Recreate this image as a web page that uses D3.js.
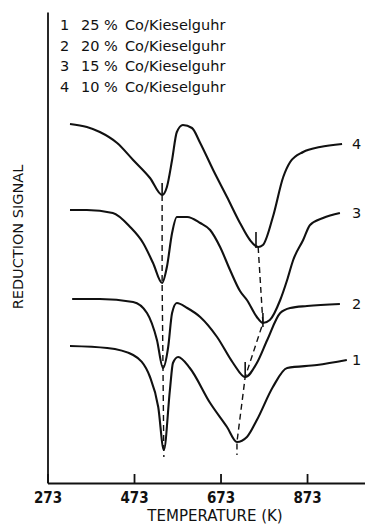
<!DOCTYPE html>
<html>
<head>
<meta charset="utf-8">
<script src="https://cdnjs.cloudflare.com/ajax/libs/d3/7.8.5/d3.min.js"></script>
<style>
    body { margin: 0; background: #fff; }
    text { font-family: "DejaVu Sans", sans-serif; fill: #111; }
    .axis path, .axis line { stroke: #111; stroke-width: 1.8px; }
    .axis text { font-family: "DejaVu Sans Condensed", "DejaVu Sans", sans-serif; font-size: 15px; font-weight: bold; }
</style>
</head>
<body>
<div id="chart"></div>
<script>

// temperature (K), reduction signal (arbitrary units)
var curve1 = [[325,137],[411,135],[471,128],[510,106],[529,76],[542,33],[556,93],[563,120],[575,126],
    [602,115],[649,80],[688,56],[711,41],[734,46],[757,63],[794,96],[827,115],[896,118],[965,123]];
var curve2 = [[330,184],[394,184],[471,181],[503,170],[526,143],[540,115],[552,136],[561,170],[572,180],
    [596,175],[626,166],[665,146],[702,120],[730,106],[757,120],[781,143],[811,170],[834,175],[873,177],[949,179]];
var curve3 = [[325,273],[364,273],[424,270],[464,256],[494,240],[517,220],[538,200],[549,216],[561,250],
    [572,266],[596,266],[626,260],[649,253],[672,236],[695,213],[718,192],[734,183],[757,166],[771,160],
    [787,163],[811,183],[827,203],[841,223],[864,243],[880,258],[910,265],[949,270]];
var curve4 = [[325,359],[364,356],[394,351],[434,340],[471,323],[510,305],[538,288],[549,296],[561,323],
    [572,351],[586,358],[607,355],[626,340],[656,313],[688,286],[718,260],[741,243],[760,236],[771,238],
    [794,266],[818,306],[834,321],[864,331],[903,336],[954,339]];

var curveNames = ["1", "2", "3", "4"];
var legendPct = ["25 %", "20 %", "15 %", "10 %"];
var legendSupport = "Co/Kieselguhr";

// dashed guides through the two reduction minima
var peakLow = [[538,288],[538,200],[540,115],[542,26]];
var peakHigh = [[760,236],[771,160],[730,106],[711,41],[711,28]];
// short vertical marks at the minima: [T, from, to]
var minMarks = [[538,300,288],[755,251,235],[771,170,156],[730,121,105]];

var xTicks = [273, 473, 673, 873];


ReductionChart = function(_parentElement){
    this.parentElement = _parentElement;
    this.curves = [curve1, curve2, curve3, curve4];
    this.initVis();
}

ReductionChart.prototype.initVis = function(){
    var vis = this;

    vis.width = 365;
    vis.height = 527;

    vis.svg = d3.select("#" + vis.parentElement).append("svg")
        .attr("width", vis.width)
        .attr("height", vis.height);

    vis.x = d3.scaleLinear()
        .domain([273, 1007])
        .range([47.5, 365]);

    vis.y = d3.scaleLinear()
        .domain([0, 471])
        .range([483, 12]);

    vis.xAxis = d3.axisBottom(vis.x)
        .tickValues(xTicks)
        .tickFormat(d3.format("d"))
        .tickSizeInner(-9)
        .tickSizeOuter(0)
        .tickPadding(9);

    vis.yAxis = d3.axisLeft(vis.y)
        .tickValues([])
        .tickSizeOuter(0);

    vis.svg.append("g")
        .attr("class", "x-axis axis")
        .attr("transform", "translate(0," + vis.y(0) + ")")
        .call(vis.xAxis);

    vis.svg.append("g")
        .attr("class", "y-axis axis")
        .attr("transform", "translate(" + vis.x(273) + ",0)")
        .call(vis.yAxis);

    vis.svg.selectAll(".axis .domain").attr("stroke", "#111");

    vis.svg.append("text")
        .attr("x", 215)
        .attr("y", 521)
        .attr("text-anchor", "middle")
        .style("font-size", "15px")
        .text("TEMPERATURE (K)");

    vis.svg.append("text")
        .attr("transform", "translate(23,237) rotate(-90)")
        .attr("text-anchor", "middle")
        .style("font-size", "14.5px")
        .text("REDUCTION SIGNAL");

    // legend
    vis.legend = vis.svg.append("g").attr("class", "legend");
    var rows = vis.legend.selectAll("g.row")
        .data(curveNames)
        .enter().append("g")
        .attr("class", "row")
        .attr("transform", function(d, i) { return "translate(0," + (30 + i * 20.5) + ")"; });
    rows.append("text").attr("x", 60).style("font-size", "14.5px").text(function(d) { return d; });
    rows.append("text").attr("x", 81).style("font-size", "14.5px").text(function(d, i) { return legendPct[i]; });
    rows.append("text").attr("x", 125).style("font-size", "14.5px").text(legendSupport);

    vis.line = d3.line()
        .x(function(d) { return vis.x(d[0]); })
        .y(function(d) { return vis.y(d[1]); })
        .curve(d3.curveMonotoneX);

    vis.guide = d3.line()
        .x(function(d) { return vis.x(d[0]); })
        .y(function(d) { return vis.y(d[1]); });

    vis.updateVis();
}

ReductionChart.prototype.updateVis = function(){
    var vis = this;

    vis.svg.selectAll("path.guide")
        .data([peakLow, peakHigh])
        .enter().append("path")
        .attr("class", "guide")
        .attr("d", vis.guide)
        .attr("fill", "none")
        .attr("stroke", "#111")
        .attr("stroke-width", 1.4)
        .attr("stroke-dasharray", "6,4");

    vis.svg.selectAll("line.mark")
        .data(minMarks)
        .enter().append("line")
        .attr("class", "mark")
        .attr("x1", function(d) { return vis.x(d[0]); })
        .attr("x2", function(d) { return vis.x(d[0]); })
        .attr("y1", function(d) { return vis.y(d[1]); })
        .attr("y2", function(d) { return vis.y(d[2]); })
        .attr("stroke", "#111")
        .attr("stroke-width", 1.6);

    vis.svg.selectAll("path.trace")
        .data(vis.curves)
        .enter().append("path")
        .attr("class", "trace")
        .attr("d", vis.line)
        .attr("fill", "none")
        .attr("stroke", "#111")
        .attr("stroke-width", 2.1)
        .attr("stroke-linejoin", "round");

    vis.svg.selectAll("text.curve-label")
        .data(vis.curves)
        .enter().append("text")
        .attr("class", "curve-label")
        .attr("x", 352)
        .attr("y", function(d) { return vis.y(d[d.length - 1][1]) + 5; })
        .style("font-size", "14.5px")
        .text(function(d, i) { return curveNames[i]; });
}

var chart = new ReductionChart("chart");

</script>
</body>
</html>
